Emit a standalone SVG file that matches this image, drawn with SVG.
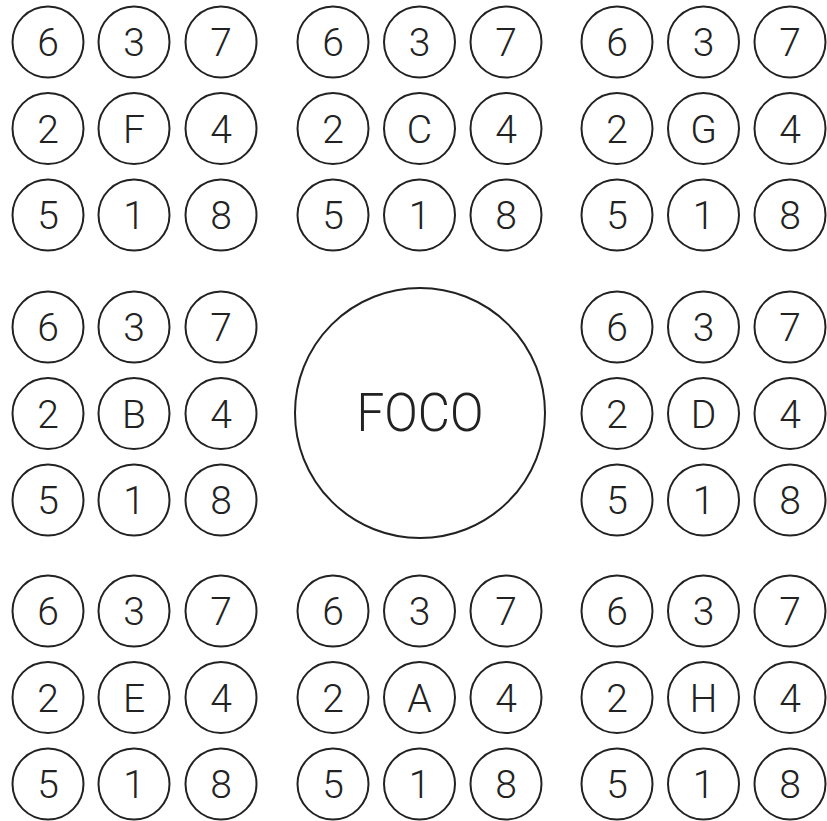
<svg xmlns="http://www.w3.org/2000/svg" width="827" height="821" viewBox="0 0 827 821">
<style>
.n circle{fill:#fff;stroke:#222;stroke-width:2}
.n text{font-family:Roboto,"Liberation Sans",sans-serif;font-weight:300;font-size:39px;fill:#222;text-anchor:middle}
.f text{font-size:53px}
</style>
<rect width="827" height="821" fill="#fff"/>
<g id="connectors"/>
<g id="group-F">
<g id="F-6" class="n"><circle cx="48" cy="42" r="35.5"/><text x="48" y="56">6</text></g>
<g id="F-3" class="n"><circle cx="134" cy="42" r="35.5"/><text x="134" y="56">3</text></g>
<g id="F-7" class="n"><circle cx="221" cy="42" r="35.5"/><text x="221" y="56">7</text></g>
<g id="F-2" class="n"><circle cx="48" cy="128.5" r="35.5"/><text x="48" y="142.5">2</text></g>
<g id="F" class="n"><circle cx="134" cy="128.5" r="35.5"/><text x="134" y="142.5">F</text></g>
<g id="F-4" class="n"><circle cx="221" cy="128.5" r="35.5"/><text x="221" y="142.5">4</text></g>
<g id="F-5" class="n"><circle cx="48" cy="215" r="35.5"/><text x="48" y="229">5</text></g>
<g id="F-1" class="n"><circle cx="134" cy="215" r="35.5"/><text x="134" y="229">1</text></g>
<g id="F-8" class="n"><circle cx="221" cy="215" r="35.5"/><text x="221" y="229">8</text></g>
</g>
<g id="group-C">
<g id="C-6" class="n"><circle cx="333" cy="42" r="35.5"/><text x="333" y="56">6</text></g>
<g id="C-3" class="n"><circle cx="419.5" cy="42" r="35.5"/><text x="419.5" y="56">3</text></g>
<g id="C-7" class="n"><circle cx="506" cy="42" r="35.5"/><text x="506" y="56">7</text></g>
<g id="C-2" class="n"><circle cx="333" cy="128.5" r="35.5"/><text x="333" y="142.5">2</text></g>
<g id="C" class="n"><circle cx="419.5" cy="128.5" r="35.5"/><text x="419.5" y="142.5">C</text></g>
<g id="C-4" class="n"><circle cx="506" cy="128.5" r="35.5"/><text x="506" y="142.5">4</text></g>
<g id="C-5" class="n"><circle cx="333" cy="215" r="35.5"/><text x="333" y="229">5</text></g>
<g id="C-1" class="n"><circle cx="419.5" cy="215" r="35.5"/><text x="419.5" y="229">1</text></g>
<g id="C-8" class="n"><circle cx="506" cy="215" r="35.5"/><text x="506" y="229">8</text></g>
</g>
<g id="group-G">
<g id="G-6" class="n"><circle cx="617" cy="42" r="35.5"/><text x="617" y="56">6</text></g>
<g id="G-3" class="n"><circle cx="703.5" cy="42" r="35.5"/><text x="703.5" y="56">3</text></g>
<g id="G-7" class="n"><circle cx="790" cy="42" r="35.5"/><text x="790" y="56">7</text></g>
<g id="G-2" class="n"><circle cx="617" cy="128.5" r="35.5"/><text x="617" y="142.5">2</text></g>
<g id="G" class="n"><circle cx="703.5" cy="128.5" r="35.5"/><text x="703.5" y="142.5">G</text></g>
<g id="G-4" class="n"><circle cx="790" cy="128.5" r="35.5"/><text x="790" y="142.5">4</text></g>
<g id="G-5" class="n"><circle cx="617" cy="215" r="35.5"/><text x="617" y="229">5</text></g>
<g id="G-1" class="n"><circle cx="703.5" cy="215" r="35.5"/><text x="703.5" y="229">1</text></g>
<g id="G-8" class="n"><circle cx="790" cy="215" r="35.5"/><text x="790" y="229">8</text></g>
</g>
<g id="group-B">
<g id="B-6" class="n"><circle cx="48" cy="327" r="35.5"/><text x="48" y="341">6</text></g>
<g id="B-3" class="n"><circle cx="134" cy="327" r="35.5"/><text x="134" y="341">3</text></g>
<g id="B-7" class="n"><circle cx="221" cy="327" r="35.5"/><text x="221" y="341">7</text></g>
<g id="B-2" class="n"><circle cx="48" cy="413.5" r="35.5"/><text x="48" y="427.5">2</text></g>
<g id="B" class="n"><circle cx="134" cy="413.5" r="35.5"/><text x="134" y="427.5">B</text></g>
<g id="B-4" class="n"><circle cx="221" cy="413.5" r="35.5"/><text x="221" y="427.5">4</text></g>
<g id="B-5" class="n"><circle cx="48" cy="500" r="35.5"/><text x="48" y="514">5</text></g>
<g id="B-1" class="n"><circle cx="134" cy="500" r="35.5"/><text x="134" y="514">1</text></g>
<g id="B-8" class="n"><circle cx="221" cy="500" r="35.5"/><text x="221" y="514">8</text></g>
</g>
<g id="FOCO" class="n f"><circle cx="420" cy="413" r="125"/><text x="420" y="431" textLength="127" lengthAdjust="spacingAndGlyphs">FOCO</text></g>
<g id="group-D">
<g id="D-6" class="n"><circle cx="617" cy="327" r="35.5"/><text x="617" y="341">6</text></g>
<g id="D-3" class="n"><circle cx="703.5" cy="327" r="35.5"/><text x="703.5" y="341">3</text></g>
<g id="D-7" class="n"><circle cx="790" cy="327" r="35.5"/><text x="790" y="341">7</text></g>
<g id="D-2" class="n"><circle cx="617" cy="413.5" r="35.5"/><text x="617" y="427.5">2</text></g>
<g id="D" class="n"><circle cx="703.5" cy="413.5" r="35.5"/><text x="703.5" y="427.5">D</text></g>
<g id="D-4" class="n"><circle cx="790" cy="413.5" r="35.5"/><text x="790" y="427.5">4</text></g>
<g id="D-5" class="n"><circle cx="617" cy="500" r="35.5"/><text x="617" y="514">5</text></g>
<g id="D-1" class="n"><circle cx="703.5" cy="500" r="35.5"/><text x="703.5" y="514">1</text></g>
<g id="D-8" class="n"><circle cx="790" cy="500" r="35.5"/><text x="790" y="514">8</text></g>
</g>
<g id="group-E">
<g id="E-6" class="n"><circle cx="48" cy="611" r="35.5"/><text x="48" y="625">6</text></g>
<g id="E-3" class="n"><circle cx="134" cy="611" r="35.5"/><text x="134" y="625">3</text></g>
<g id="E-7" class="n"><circle cx="221" cy="611" r="35.5"/><text x="221" y="625">7</text></g>
<g id="E-2" class="n"><circle cx="48" cy="697.5" r="35.5"/><text x="48" y="711.5">2</text></g>
<g id="E" class="n"><circle cx="134" cy="697.5" r="35.5"/><text x="134" y="711.5">E</text></g>
<g id="E-4" class="n"><circle cx="221" cy="697.5" r="35.5"/><text x="221" y="711.5">4</text></g>
<g id="E-5" class="n"><circle cx="48" cy="784" r="35.5"/><text x="48" y="798">5</text></g>
<g id="E-1" class="n"><circle cx="134" cy="784" r="35.5"/><text x="134" y="798">1</text></g>
<g id="E-8" class="n"><circle cx="221" cy="784" r="35.5"/><text x="221" y="798">8</text></g>
</g>
<g id="group-A">
<g id="A-6" class="n"><circle cx="333" cy="611" r="35.5"/><text x="333" y="625">6</text></g>
<g id="A-3" class="n"><circle cx="419.5" cy="611" r="35.5"/><text x="419.5" y="625">3</text></g>
<g id="A-7" class="n"><circle cx="506" cy="611" r="35.5"/><text x="506" y="625">7</text></g>
<g id="A-2" class="n"><circle cx="333" cy="697.5" r="35.5"/><text x="333" y="711.5">2</text></g>
<g id="A" class="n"><circle cx="419.5" cy="697.5" r="35.5"/><text x="419.5" y="711.5">A</text></g>
<g id="A-4" class="n"><circle cx="506" cy="697.5" r="35.5"/><text x="506" y="711.5">4</text></g>
<g id="A-5" class="n"><circle cx="333" cy="784" r="35.5"/><text x="333" y="798">5</text></g>
<g id="A-1" class="n"><circle cx="419.5" cy="784" r="35.5"/><text x="419.5" y="798">1</text></g>
<g id="A-8" class="n"><circle cx="506" cy="784" r="35.5"/><text x="506" y="798">8</text></g>
</g>
<g id="group-H">
<g id="H-6" class="n"><circle cx="617" cy="611" r="35.5"/><text x="617" y="625">6</text></g>
<g id="H-3" class="n"><circle cx="703.5" cy="611" r="35.5"/><text x="703.5" y="625">3</text></g>
<g id="H-7" class="n"><circle cx="790" cy="611" r="35.5"/><text x="790" y="625">7</text></g>
<g id="H-2" class="n"><circle cx="617" cy="697.5" r="35.5"/><text x="617" y="711.5">2</text></g>
<g id="H" class="n"><circle cx="703.5" cy="697.5" r="35.5"/><text x="703.5" y="711.5">H</text></g>
<g id="H-4" class="n"><circle cx="790" cy="697.5" r="35.5"/><text x="790" y="711.5">4</text></g>
<g id="H-5" class="n"><circle cx="617" cy="784" r="35.5"/><text x="617" y="798">5</text></g>
<g id="H-1" class="n"><circle cx="703.5" cy="784" r="35.5"/><text x="703.5" y="798">1</text></g>
<g id="H-8" class="n"><circle cx="790" cy="784" r="35.5"/><text x="790" y="798">8</text></g>
</g>
</svg>
